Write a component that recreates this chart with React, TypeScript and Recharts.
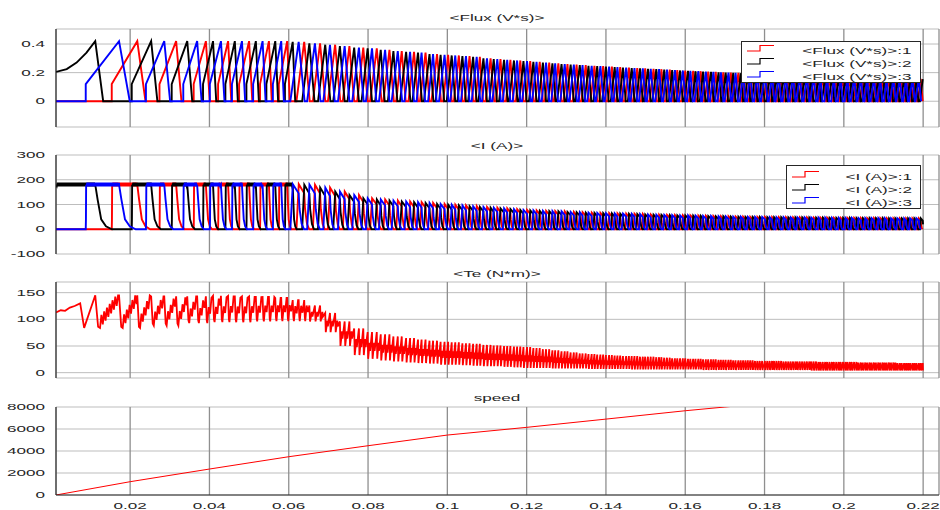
import React from 'react';
import { LineChart, Line, XAxis, YAxis, CartesianGrid, Legend } from 'recharts';

const timeTicks = [20, 40, 60, 80, 100, 120, 140, 160, 180, 200, 220];
const timeTickLabels = ['0.02', '0.04', '0.06', '0.08', '0.1', '0.12', '0.14', '0.16', '0.18', '0.2', '0.22'];
const timeDomain: [number, number] = [1.3, 224];
const simEnd = 220;

const fluxTicks = [0, 0.2, 0.4];
const currentTicks = [-100, 0, 100, 200, 300];
const torqueTicks = [0, 50, 100, 150];
const speedTicks = [0, 2000, 4000, 6000, 8000];

const phaseColors = ['#ff0000', '#000000', '#0000ff'];
const fluxLegend = ['<Flux (V*s)>:1', '<Flux (V*s)>:2', '<Flux (V*s)>:3'];
const currentLegend = ['<I (A)>:1', '<I (A)>:2', '<I (A)>:3'];

// phase switched off at each stroke: black, blue, red, black, ...
const strokeOrder = [1, 2, 0];

// stroke (turn-off) instants in ms
const strokeTimes = [
  11.2, 17.2, 21.8, 25.3, 28.6, 31.6, 34.4, 36.9, 39.1, 40.9, 42.9, 44.7, 46.4, 48.2, 50.0,
  51.7, 53.4, 55.0, 56.6, 58.1, 59.6, 61.0, 62.5, 63.9, 65.2, 66.6, 67.9, 69.2, 70.4, 71.7,
  72.9, 74.1, 75.3, 76.5, 77.7, 78.8, 79.9, 81.0, 82.2, 83.2, 84.3, 85.4, 86.4, 87.5, 88.5,
  89.6, 90.6, 91.6, 92.6, 93.5, 94.5, 95.5, 96.4, 97.4, 98.3, 99.3, 100.2, 101.1, 102.0, 102.9,
  103.8, 104.7, 105.6, 106.5, 107.4, 108.2, 109.1, 110.0, 110.9, 111.7, 112.6, 113.4, 114.3, 115.1, 115.9,
  116.8, 117.6, 118.4, 119.2, 120.1, 120.9, 121.7, 122.5, 123.3, 124.1, 124.9, 125.7, 126.5, 127.2, 128.0,
  128.8, 129.6, 130.3, 131.1, 131.9, 132.6, 133.4, 134.1, 134.9, 135.6, 136.4, 137.1, 137.8, 138.6, 139.3,
  140.0, 140.8, 141.5, 142.2, 142.9, 143.6, 144.3, 145.1, 145.8, 146.5, 147.2, 147.9, 148.6, 149.3, 149.9,
  150.6, 151.3, 152.0, 152.7, 153.4, 154.0, 154.7, 155.4, 156.1, 156.7, 157.4, 158.0, 158.7, 159.4, 160.0,
  160.7, 161.3, 162.0, 162.6, 163.3, 163.9, 164.5, 165.2, 165.8, 166.5, 167.1, 167.7, 168.4, 169.0, 169.6,
  170.2, 170.9, 171.5, 172.1, 172.7, 173.4, 174.0, 174.6, 175.2, 175.8, 176.4, 177.0, 177.6, 178.2, 178.8,
  179.4, 180.1, 180.7, 181.3, 181.9, 182.4, 183.0, 183.6, 184.2, 184.8, 185.4, 186.0, 186.6, 187.2, 187.8,
  188.3, 188.9, 189.5, 190.1, 190.7, 191.3, 191.8, 192.4, 193.0, 193.6, 194.1, 194.7, 195.3, 195.8, 196.4,
  197.0, 197.5, 198.1, 198.7, 199.2, 199.8, 200.4, 200.9, 201.5, 202.0, 202.6, 203.2, 203.7, 204.3, 204.8,
  205.4, 205.9, 206.5, 207.0, 207.6, 208.1, 208.7, 209.2, 209.8, 210.3, 210.8, 211.4, 211.9, 212.5, 213.0,
  213.5, 214.1, 214.6, 215.2, 215.7, 216.2, 216.7, 217.3, 217.8, 218.3, 218.9, 219.4, 219.9,
];

// one value per cycle of three strokes
const fluxPeaks = [
  0.42, 0.42, 0.42, 0.42, 0.42, 0.42, 0.42, 0.415, 0.405, 0.395,
  0.385, 0.375, 0.37, 0.36, 0.35, 0.345, 0.34, 0.33, 0.325, 0.32,
  0.315, 0.31, 0.3, 0.295, 0.29, 0.285, 0.28, 0.275, 0.27, 0.265,
  0.26, 0.256, 0.252, 0.248, 0.245, 0.242, 0.238, 0.235, 0.232, 0.23,
  0.227, 0.224, 0.221, 0.218, 0.215, 0.212, 0.21, 0.207, 0.205, 0.202,
  0.2, 0.198, 0.196, 0.194, 0.192, 0.19, 0.188, 0.186, 0.184, 0.182,
  0.18, 0.178, 0.176, 0.175, 0.174, 0.172, 0.17, 0.169, 0.168, 0.166,
  0.165, 0.164, 0.162, 0.161, 0.16, 0.159, 0.158, 0.157, 0.156, 0.155,
];
const currentPeaks = [
  180, 180, 180, 180, 180, 180, 180, 182, 180, 168,
  152, 138, 125, 120, 116, 112, 109, 106, 102, 99,
  96, 93, 90, 87, 84, 81, 78, 76, 74, 73,
  72, 70, 69, 67, 66, 65, 64, 63, 62, 61,
  60, 59, 58, 57, 56, 56, 55, 54, 53, 52,
  52, 51, 51, 50, 50, 50, 49, 49, 49, 48,
  48, 48, 47, 47, 47, 46, 46, 46, 46, 45,
  45, 45, 45, 45, 44, 44, 44, 44, 44, 44,
];
const torqueHighs = [
  145, 143, 143, 144, 143, 142, 140, 136, 126, 112,
  96, 83, 76, 72, 68, 65, 62, 60, 58, 57,
  55, 54, 52, 51, 50, 49, 48, 46, 44, 42,
  40, 38, 36, 35, 34, 33, 32, 31, 31, 30,
  30, 29, 28, 27, 27, 26, 26, 25, 25, 24,
  24, 23, 23, 23, 22, 22, 22, 22, 21, 21,
  21, 21, 21, 20, 20, 20, 20, 20, 20, 19,
  19, 19, 19, 19, 19, 18, 18, 18, 18, 18,
];
const torqueLows = [
  86, 92, 98, 100, 100, 102, 103, 104, 96, 76,
  50, 33, 26, 23, 21, 19, 18, 17, 15, 15,
  14, 13, 12, 12, 11, 10, 9, 9, 9, 8,
  8, 8, 8, 7, 7, 7, 7, 7, 6, 6,
  6, 6, 6, 6, 6, 6, 6, 5, 5, 5,
  5, 5, 5, 5, 5, 5, 5, 5, 5, 5,
  5, 5, 4, 4, 4, 4, 4, 4, 4, 4,
  4, 4, 4, 4, 4, 4, 4, 4, 4, 4,
];

const fluxStartTimes = [1.3, 4, 6.5, 9, 11.2];
const fluxStartValues = [0.205, 0.225, 0.27, 0.34, 0.42];
const torqueStartTimes = [1.3, 2.5, 3.6, 4.8, 6, 7.4, 8.4];
const torqueStartValues = [113, 117, 116, 122, 125, 130, 84];
const chopBand = [174, 188];
const torqueChopDepth = 14;

const speedTimes = [1.3, 20, 40, 60, 80, 100, 120, 140, 160, 170, 180, 200, 220];
const speedValues = [0, 1210, 2360, 3480, 4480, 5450, 6150, 6900, 7660, 8000, 8320, 8930, 9520];

type Pt = { t: number; v: number };

const textColor = '#262626';
const axisColor = '#262626';
const font = '"Liberation Sans", Arial, sans-serif';
const edgePad = 7;

function strokeInfo(i: number) {
  const T = strokeTimes[i];
  const g = i > 0 ? T - strokeTimes[i - 1] : 6;
  const h = i < strokeTimes.length - 1 ? strokeTimes[i + 1] - T : g;
  const onset = (i > 0 ? strokeTimes[i - 1] : T) - 0.4 * g;
  return { T, g, h, onset, c: Math.floor(i / 3) };
}

function buildFlux(phase: number): Pt[] {
  const pts: Pt[] = [];
  if (phase === 1) {
    fluxStartTimes.forEach((t, k) => pts.push({ t, v: fluxStartValues[k] }));
  } else {
    pts.push({ t: timeDomain[0], v: 0 });
  }
  strokeTimes.forEach((_, i) => {
    if (strokeOrder[i % 3] !== phase) return;
    const { T, g, onset, c } = strokeInfo(i);
    const peak = fluxPeaks[c];
    if (i === 0) {
      pts.push({ t: T + 2, v: 0 });
    } else if (T < 62) {
      pts.push({ t: onset, v: 0 }, { t: onset, v: 0.12 }, { t: T, v: peak }, { t: T + 0.45 * g, v: 0 });
    } else {
      pts.push({ t: onset, v: 0 }, { t: T, v: peak }, { t: T + g, v: 0 });
    }
  });
  return pts.filter((p) => p.t <= simEnd);
}

function buildCurrent(phase: number): Pt[] {
  const pts: Pt[] = [];
  if (phase !== 1) pts.push({ t: timeDomain[0], v: 0 });
  strokeTimes.forEach((_, i) => {
    if (strokeOrder[i % 3] !== phase) return;
    const { T, g, onset, c } = strokeInfo(i);
    const peak = currentPeaks[c];
    if (T < 62) {
      const start = i === 0 ? timeDomain[0] : onset;
      if (i === 0) pts.push({ t: start, v: peak });
      else pts.push({ t: start, v: 0 }, { t: start + 0.05, v: 40 }, { t: start + 0.1, v: peak });
      let k = 0;
      for (let s = start + 0.2; s < T; s += 0.2) {
        pts.push({ t: s, v: chopBand[k % 2] });
        k += 1;
      }
      pts.push(
        { t: T, v: peak },
        { t: T + 0.1 * g, v: 120 },
        { t: T + 0.25 * g, v: 40 },
        { t: T + 0.45 * g, v: 12 },
        { t: T + 0.7 * g, v: 0 },
      );
    } else {
      pts.push(
        { t: onset, v: 0 },
        { t: onset + 0.3 * (T - onset), v: peak },
        { t: T, v: 0.8 * peak },
        { t: T + 0.15 * g, v: 0.45 * peak },
        { t: T + 0.5 * g, v: 0.12 * peak },
        { t: T + 0.9 * g, v: 0 },
      );
    }
  });
  return pts.filter((p) => p.t <= simEnd);
}

function buildTorque(): Pt[] {
  const pts: Pt[] = torqueStartTimes.map((t, k) => ({ t, v: torqueStartValues[k] }));
  strokeTimes.forEach((T, i) => {
    const { h, c } = strokeInfo(i);
    const hi = torqueHighs[c];
    const lo = torqueLows[c];
    pts.push({ t: T, v: hi }, { t: T + 0.12 * h, v: lo });
    if (T < 64) {
      // chopping ripple while the torque recovers
      let k = 0;
      for (let s = T + 0.2 * h; s < T + h - 0.1; s += 0.35) {
        const base = lo + ((s - T) / h) * (hi - lo);
        pts.push({ t: s, v: k % 2 ? Math.min(hi, base + torqueChopDepth / 2) : base - torqueChopDepth });
        k += 1;
      }
    } else {
      pts.push(
        { t: T + 0.45 * h, v: lo + 0.6 * (hi - lo) },
        { t: T + 0.55 * h, v: lo + 0.3 * (hi - lo) },
      );
    }
  });
  return pts.filter((p) => p.t <= simEnd);
}

const fluxData = [0, 1, 2].map(buildFlux);
const currentData = [0, 1, 2].map(buildCurrent);
const torqueData = buildTorque();
const speedData = speedTimes.map((t, k) => ({ t, v: speedValues[k] }));

const TimeTick = (props: any) => {
  const { x, y, payload } = props;
  const idx = timeTicks.indexOf(payload.value);
  return (
    <g transform={`translate(${x},${y})`}>
      <text transform="scale(1.9,1)" textAnchor="middle" dy="0.71em" fontSize={9} fill={textColor} fontFamily={font}>
        {idx >= 0 ? timeTickLabels[idx] : payload.value}
      </text>
    </g>
  );
};

const EmptyTick = () => <g />;

const ValueTick = (props: any) => {
  const { x, y, payload } = props;
  return (
    <g transform={`translate(${x},${y})`}>
      <text transform="scale(1.9,1)" textAnchor="end" dy="0.35em" fontSize={9} fill={textColor} fontFamily={font}>
        {String(payload.value)}
      </text>
    </g>
  );
};

const StepIcon = ({ color }: { color: string }) => (
  <svg width={27} height={9} style={{ display: 'block' }}>
    <polyline points="0,7 13,7 13,1.5 27,1.5" fill="none" stroke={color} strokeWidth={1.2} />
  </svg>
);

const LegendBox = ({ labels, width, rowHeight, padTop }: { labels: string[]; width: number; rowHeight: number; padTop: number }) => (
  <div
    style={{
      width,
      boxSizing: 'border-box',
      border: `1px solid ${axisColor}`,
      background: '#fff',
      paddingTop: padTop,
      paddingBottom: 1,
      fontFamily: font,
    }}
  >
    {labels.map((label, k) => (
      <div key={label} style={{ display: 'flex', alignItems: 'center', height: rowHeight, paddingLeft: 5, paddingRight: 8 }}>
        <StepIcon color={phaseColors[k]} />
        <div style={{ flex: 1, textAlign: 'right', whiteSpace: 'nowrap' }}>
          <span
            style={{
              display: 'inline-block',
              fontSize: 9,
              lineHeight: '10px',
              color: textColor,
              transform: 'scaleX(1.9)',
              transformOrigin: 'right center',
            }}
          >
            {label}
          </span>
        </div>
      </div>
    ))}
  </div>
);

type PanelProps = {
  top: number;
  plotHeight: number;
  domain: [number, number];
  ticks: number[];
  showTime?: boolean;
  lines: React.ReactNode;
  legend?: React.ReactNode;
};

const Panel = ({ top, plotHeight, domain, ticks, showTime, lines, legend }: PanelProps) => {
  const axisH = showTime ? 15 : 0;
  const bottomPad = showTime ? 0 : edgePad;
  return (
    <div style={{ position: 'absolute', left: 0, top: top - edgePad }}>
      <LineChart
        width={940}
        height={plotHeight + axisH + edgePad + bottomPad}
        margin={{ top: edgePad, right: 1, bottom: bottomPad, left: 0 }}
      >
        <CartesianGrid vertical={false} stroke="#bdbdbd" />
        <CartesianGrid horizontal={false} stroke="#8f8f8f" strokeWidth={1.3} />
        <XAxis
          dataKey="t"
          type="number"
          domain={timeDomain}
          ticks={timeTicks}
          interval={0}
          allowDataOverflow
          height={axisH}
          tickSize={0}
          tickMargin={8}
          tickLine={false}
          axisLine={{ stroke: axisColor }}
          tick={showTime ? <TimeTick /> : <EmptyTick />}
        />
        <XAxis
          xAxisId="top"
          orientation="top"
          type="number"
          domain={timeDomain}
          allowDataOverflow
          height={0}
          tick={false}
          tickLine={false}
          axisLine={{ stroke: axisColor }}
        />
        <YAxis
          type="number"
          width={56}
          domain={domain}
          ticks={ticks}
          interval={0}
          allowDataOverflow
          tickSize={0}
          tickMargin={11}
          tickLine={false}
          axisLine={{ stroke: axisColor }}
          tick={<ValueTick />}
        />
        <YAxis
          yAxisId="right"
          orientation="right"
          type="number"
          width={0}
          domain={domain}
          allowDataOverflow
          tick={false}
          tickLine={false}
          axisLine={{ stroke: axisColor }}
        />
        {legend}
        {lines}
      </LineChart>
    </div>
  );
};

const Title = ({ text, centerY }: { text: string; centerY: number }) => (
  <div
    style={{
      position: 'absolute',
      left: 347,
      width: 300,
      top: centerY - 6,
      height: 12,
      lineHeight: '12px',
      textAlign: 'center',
      fontFamily: font,
      fontSize: 9,
      color: textColor,
      transform: 'scaleX(1.9)',
      transformOrigin: 'center center',
      whiteSpace: 'nowrap',
    }}
  >
    {text}
  </div>
);

const phaseLines = (data: Pt[][], prefix: string) =>
  data.map((d, k) => (
    <Line
      key={`${prefix}${k}`}
      data={d}
      dataKey="v"
      name={`${prefix}:${k + 1}`}
      type="linear"
      stroke={phaseColors[k]}
      strokeWidth={1.9}
      dot={false}
      activeDot={false}
      isAnimationActive={false}
    />
  ));

export default function App() {
  return (
    <div style={{ position: 'absolute', left: 0, top: 0, width: 940, height: 510, background: '#fff', overflow: 'hidden' }}>
      <Title text="<Flux (V*s)>" centerY={18} />
      <Title text="<I (A)>" centerY={146} />
      <Title text="<Te (N*m)>" centerY={274} />
      <Title text="speed" centerY={398} />

      <Panel
        top={29}
        plotHeight={98}
        domain={[-0.18, 0.505]}
        ticks={fluxTicks}
        lines={phaseLines(fluxData, 'flux')}
        legend={
          <Legend
            layout="vertical"
            align="center"
            verticalAlign="middle"
            wrapperStyle={{ left: 741, top: 12 + edgePad, width: 180, height: 39 }}
            content={() => <LegendBox labels={fluxLegend} width={180} rowHeight={13} padTop={0} />}
          />
        }
      />
      <Panel
        top={155}
        plotHeight={99}
        domain={[-100, 300]}
        ticks={currentTicks}
        lines={phaseLines(currentData, 'current')}
        legend={
          <Legend
            layout="vertical"
            align="center"
            verticalAlign="middle"
            wrapperStyle={{ left: 786, top: 10 + edgePad, width: 135, height: 41 }}
            content={() => <LegendBox labels={currentLegend} width={135} rowHeight={13} padTop={2} />}
          />
        }
      />
      <Panel
        top={282}
        plotHeight={96}
        domain={[-10, 170]}
        ticks={torqueTicks}
        lines={
          <Line
            data={torqueData}
            dataKey="v"
            type="linear"
            stroke="#ff0000"
            strokeWidth={1.8}
            dot={false}
            activeDot={false}
            isAnimationActive={false}
          />
        }
      />
      <Panel
        top={407}
        plotHeight={88}
        domain={[0, 8000]}
        ticks={speedTicks}
        showTime
        lines={
          <Line
            data={speedData}
            dataKey="v"
            type="linear"
            stroke="#ff0000"
            strokeWidth={1}
            dot={false}
            activeDot={false}
            isAnimationActive={false}
          />
        }
      />
    </div>
  );
}
